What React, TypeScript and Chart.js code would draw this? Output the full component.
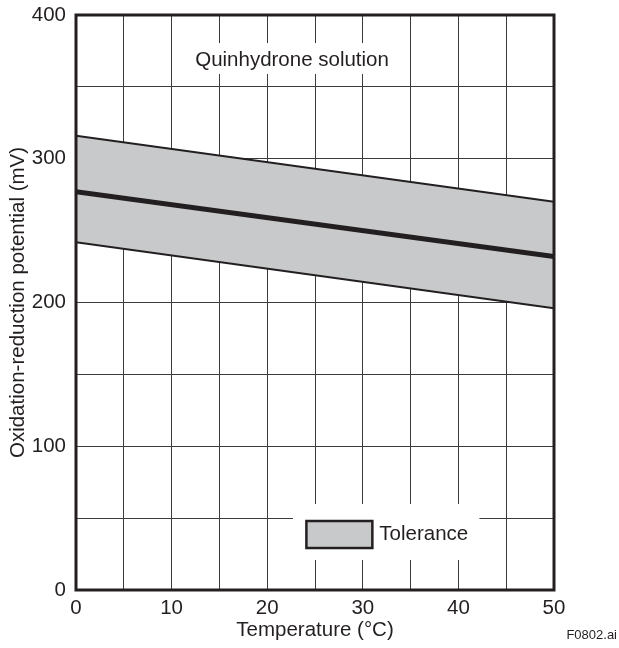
import { useEffect, useRef } from 'react';
import { Chart, registerables } from 'chart.js';

Chart.register(...registerables);

// ---- data ----
const temperatures = [0, 50];
const upperLimit = [316, 270];
const nominal = [277, 232];
const lowerLimit = [242, 196];
const chartTitle = 'Quinhydrone solution';
const legendLabel = 'Tolerance';
const xAxisTitle = 'Temperature (°C)';
const yAxisTitle = 'Oxidation-reduction potential (mV)';
const figureId = 'F0802.ai';

const INK = '#231f20';
const GRID = '#3c3c3c';
const BAND = '#c8c9cb';
const FAMILY = '"Liberation Sans", Arial, Helvetica, sans-serif';
const FS = 20.5;

const toPts = (ys: number[]) => temperatures.map((t, i) => ({ x: t, y: ys[i] }));

const overlay = {
  id: 'overlay',
  afterDraw(chart: any) {
    const { ctx, chartArea: a, scales } = chart;
    const x = scales.x;
    const y = scales.y;
    ctx.save();
    // title box
    const tx0 = x.getPixelForValue(11.4), tx1 = x.getPixelForValue(33.9);
    const ty0 = y.getPixelForValue(380.5), ty1 = y.getPixelForValue(359);
    ctx.fillStyle = '#ffffff';
    ctx.fillRect(tx0, ty0, tx1 - tx0, ty1 - ty0);
    ctx.font = `${FS}px ${FAMILY}`;
    ctx.fillStyle = INK;
    ctx.textAlign = 'center';
    ctx.textBaseline = 'middle';
    ctx.fillText(chartTitle, x.getPixelForValue(22.6), y.getPixelForValue(368.7));

    // legend box
    const lx0 = x.getPixelForValue(22.7), lx1 = x.getPixelForValue(42.2);
    const ly0 = y.getPixelForValue(59.8), ly1 = y.getPixelForValue(20.9);
    ctx.fillStyle = '#ffffff';
    ctx.fillRect(lx0, ly0, lx1 - lx0, ly1 - ly0);
    const sx0 = x.getPixelForValue(24.1), sx1 = x.getPixelForValue(31.0);
    const sy0 = y.getPixelForValue(48), sy1 = y.getPixelForValue(29.2);
    ctx.fillStyle = BAND;
    ctx.fillRect(sx0, sy0, sx1 - sx0, sy1 - sy0);
    ctx.lineWidth = 2.5;
    ctx.strokeStyle = INK;
    ctx.strokeRect(sx0, sy0, sx1 - sx0, sy1 - sy0);
    ctx.fillStyle = INK;
    ctx.textAlign = 'left';
    ctx.fillText(legendLabel, sx1 + 7, (sy0 + sy1) / 2);

    // frame
    ctx.lineWidth = 3;
    ctx.strokeStyle = INK;
    ctx.strokeRect(a.left, a.top, a.right - a.left, a.bottom - a.top);

    // figure id
    ctx.font = `13px ${FAMILY}`;
    ctx.textAlign = 'right';
    ctx.fillStyle = INK;
    ctx.fillText(figureId, 617, 635);
    ctx.restore();
  },
};

export default function App() {
  const ref = useRef<HTMLCanvasElement | null>(null);
  useEffect(() => {
    if (!ref.current) return;
    const chart = new Chart(ref.current, {
      type: 'line',
      data: {
        datasets: [
          {
            label: 'lower',
            data: toPts(lowerLimit),
            borderColor: INK,
            borderWidth: 2,
            pointRadius: 0,
            fill: false,
          },
          {
            label: legendLabel,
            data: toPts(upperLimit),
            borderColor: INK,
            borderWidth: 2,
            pointRadius: 0,
            backgroundColor: BAND,
            fill: '-1',
          },
          {
            label: 'nominal',
            data: toPts(nominal),
            borderColor: INK,
            borderWidth: 5,
            pointRadius: 0,
            fill: false,
          },
        ],
      },
      options: {
        animation: false,
        responsive: true,
        maintainAspectRatio: false,
        layout: { padding: { top: 15, right: 65, left: 0, bottom: 0 } },
        plugins: {
          legend: { display: false },
          tooltip: { enabled: false },
          filler: { drawTime: 'beforeDatasetsDraw' },
        },
        scales: {
          x: {
            type: 'linear',
            min: 0,
            max: 50,
            afterFit: (s: any) => { s.height = 58; s.paddingLeft = 0; s.paddingRight = 0; },
            grid: { color: GRID, lineWidth: 1, drawTicks: false },
            border: { display: false },
            ticks: {
              stepSize: 5,
              padding: 6,
              color: INK,
              font: { family: FAMILY, size: FS },
              maxRotation: 0,
              autoSkip: false,
              callback: (v: any) => (Number(v) % 10 === 0 ? String(v) : ''),
            },
            title: {
              display: true,
              text: xAxisTitle,
              color: INK,
              font: { family: FAMILY, size: FS },
              padding: { top: 0, bottom: 5 },
            },
          },
          y: {
            type: 'linear',
            min: 0,
            max: 400,
            afterFit: (s: any) => { s.width = 76; s.paddingTop = 0; s.paddingBottom = 0; },
            grid: { color: GRID, lineWidth: 1, drawTicks: false },
            border: { display: false },
            ticks: {
              stepSize: 50,
              padding: 10,
              color: INK,
              font: { family: FAMILY, size: FS },
              autoSkip: false,
              callback: (v: any) => (Number(v) % 100 === 0 ? String(v) : ''),
            },
            title: {
              display: true,
              text: yAxisTitle,
              color: INK,
              font: { family: FAMILY, size: FS },
              padding: { top: 6, bottom: 0 },
            },
          },
        },
      },
      plugins: [overlay],
    });
    return () => chart.destroy();
  }, []);

  return (
    <div style={{ position: 'absolute', left: 0, top: 0, width: 619, height: 648, background: '#fff' }}>
      <canvas ref={ref} />
    </div>
  );
}
